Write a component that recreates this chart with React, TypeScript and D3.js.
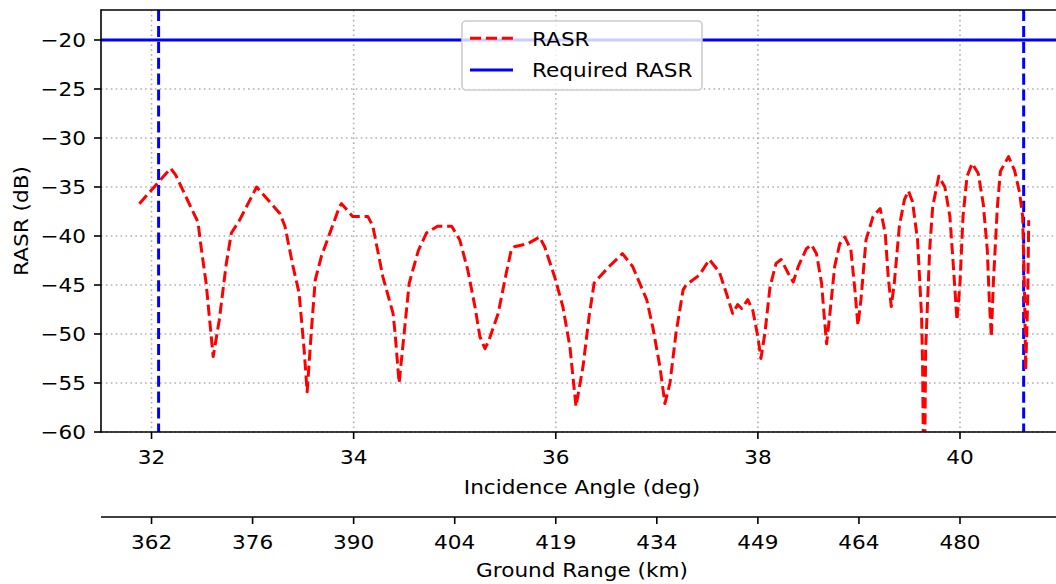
import React from "react";
import * as d3 from "d3";

// Incidence angle (deg) samples of the RASR curve
const angle = [
  31.88, 32.06, 32.19, 32.24, 32.46, 32.49, 32.54, 32.61, 32.67, 32.74, 32.79, 32.87,
  33.04, 33.27, 33.32, 33.40, 33.46, 33.51, 33.54, 33.58, 33.62, 33.68, 33.86, 33.88,
  33.99, 34.14, 34.19, 34.29, 34.39, 34.41, 34.45, 34.50, 34.55, 34.64, 34.72, 34.83,
  34.97, 35.05, 35.13, 35.20, 35.25, 35.30, 35.34, 35.43, 35.51, 35.56, 35.59, 35.72,
  35.84, 35.89, 35.99, 36.07, 36.14, 36.20, 36.27, 36.33, 36.38, 36.43, 36.53, 36.66,
  36.76, 36.90, 36.96, 37.03, 37.08, 37.13, 37.19, 37.26, 37.29, 37.42, 37.52, 37.62,
  37.69, 37.75, 37.80, 37.84, 37.90, 37.95, 38.00, 38.03, 38.07, 38.12, 38.18, 38.23,
  38.30, 38.35, 38.40, 38.48, 38.53, 38.58, 38.63, 38.66, 38.68, 38.71, 38.76, 38.81,
  38.86, 38.92, 38.96, 38.99, 39.02, 39.07, 39.14, 39.21, 39.26, 39.29, 39.32, 39.35,
  39.40, 39.45, 39.49, 39.53, 39.58, 39.62, 39.63, 39.645, 39.66, 39.70, 39.73, 39.79,
  39.85, 39.90, 39.93, 39.97, 40.00, 40.03, 40.07, 40.12, 40.18, 40.23, 40.27, 40.29,
  40.31, 40.33, 40.37, 40.40, 40.48, 40.54, 40.59, 40.62, 40.64, 40.65, 40.67, 40.68,
];

// RASR values (dB)
const rasr = [
  -36.7, -34.6, -33.1, -33.8, -38.6, -41.1, -44.8, -52.3, -48.6, -42.8, -39.7, -38.4,
  -35.0, -37.7, -39.0, -43.1, -45.8, -51.6, -55.9, -49.9, -44.5, -42.1, -37.0, -36.7,
  -38.0, -38.0, -39.0, -44.2, -47.9, -49.9, -55.0, -49.9, -44.8, -41.5, -39.7, -39.0,
  -39.0, -40.4, -43.5, -47.2, -50.3, -51.5, -50.6, -47.9, -43.8, -41.4, -41.1, -40.8,
  -40.1, -41.1, -44.2, -47.2, -51.3, -57.4, -53.3, -48.2, -44.8, -44.2, -43.1, -41.8,
  -43.1, -46.5, -49.3, -53.3, -57.1, -55.0, -49.9, -45.5, -45.0, -44.0, -42.4, -43.7,
  -45.9, -47.9, -47.0, -47.4, -46.5, -47.6, -50.3, -52.5, -49.9, -45.2, -42.8, -42.4,
  -43.8, -44.7, -43.1, -41.3, -40.9, -41.8, -44.8, -48.6, -51.0, -48.2, -43.1, -40.8,
  -40.1, -41.4, -45.5, -49.1, -46.5, -40.4, -38.0, -37.2, -39.7, -44.2, -47.2, -44.8,
  -39.0, -36.3, -35.4, -36.5, -40.4, -48.2, -53.3, -70.0, -51.6, -41.4, -37.0, -33.9,
  -35.0, -38.0, -42.4, -48.6, -44.8, -38.0, -33.9, -32.6, -33.6, -36.7, -41.4, -46.5,
  -50.3, -44.8, -37.0, -33.4, -31.9, -33.3, -35.6, -38.0, -46.5, -53.7, -46.5, -38.4,
];

const requiredRasr = -20;
const swathEdges = [32.07, 40.63];

const yTicks = [-20, -25, -30, -35, -40, -45, -50, -55, -60];
const xTicks = [32, 34, 36, 38, 40];
const groundTickAngles = [32, 33, 34, 35, 36, 37, 38, 39, 40];
const groundRangeLabels = ["362", "376", "390", "404", "419", "434", "449", "464", "480"];

const W = 1056;
const H = 584;
const left = 101;
const right = 1056;
const top = 10;
const bottom = 432;
const axis2Y = 517;
const FONT = "'DejaVu Sans', sans-serif";
const FS = 20;
const SX = 1.08;

function T(props: {
  x: number;
  y: number;
  anchor?: "start" | "middle" | "end";
  dy?: string;
  rotate?: number;
  children: React.ReactNode;
}) {
  const { x, y, anchor = "start", dy, rotate = 0, children } = props;
  const tr = rotate
    ? `translate(${x},${y}) rotate(${rotate}) scale(${SX},1)`
    : `translate(${x},${y}) scale(${SX},1)`;
  return (
    <g transform={tr}>
      <text x={0} y={0} dy={dy} textAnchor={anchor} fontSize={FS} fill="#000">
        {children}
      </text>
    </g>
  );
}

export default function App() {
  const x = d3.scaleLinear().domain([31.5, 40.95]).range([left, right]);
  const y = d3.scaleLinear().domain([-60, -16.94]).range([bottom, top]);

  const pts: [number, number][] = angle.map((a, i) => [a, rasr[i]]);
  const line = d3
    .line<[number, number]>()
    .x((d) => x(d[0]))
    .y((d) => y(d[1]));

  return (
    <svg
      width={W}
      height={H}
      style={{ position: "absolute", left: 0, top: 0, background: "#fff" }}
      fontFamily={FONT}
    >
      <defs>
        <clipPath id="plotclip">
          <rect x={left} y={top} width={right - left} height={bottom - top} />
        </clipPath>
      </defs>
      <rect x={0} y={0} width={W} height={H} fill="#fff" />

      {/* grid */}
      <g stroke="#b0b0b0" strokeWidth={1.6} strokeDasharray="1.6,3.3">
        {yTicks.map((t) => (
          <line key={"gy" + t} x1={left} x2={right} y1={y(t)} y2={y(t)} />
        ))}
        {xTicks.map((t) => (
          <line key={"gx" + t} x1={x(t)} x2={x(t)} y1={top} y2={bottom} />
        ))}
      </g>

      <g clipPath="url(#plotclip)">
        <line
          x1={left}
          x2={right}
          y1={y(requiredRasr)}
          y2={y(requiredRasr)}
          stroke="#0000ff"
          strokeWidth={3}
        />
        {swathEdges.map((a) => (
          <line
            key={"se" + a}
            x1={x(a)}
            x2={x(a)}
            y1={top}
            y2={bottom}
            stroke="#0000ff"
            strokeWidth={3}
            strokeDasharray="11.1,4.8"
          />
        ))}
        <path
          d={line(pts) || ""}
          fill="none"
          stroke="#ff0000"
          strokeWidth={3}
          strokeDasharray="11.1,4.8"
          strokeLinejoin="round"
        />
      </g>

      {/* spines */}
      <g stroke="#000" strokeWidth={1.6} fill="none">
        <line x1={left} x2={left} y1={top - 0.8} y2={bottom + 0.8} />
        <line x1={left} x2={right} y1={top} y2={top} />
        <line x1={left} x2={right} y1={bottom} y2={bottom} />
        <line x1={left} x2={right} y1={axis2Y} y2={axis2Y} />
      </g>

      {/* y ticks */}
      {yTicks.map((t) => (
        <g key={"yt" + t}>
          <line x1={left - 7} x2={left} y1={y(t)} y2={y(t)} stroke="#000" strokeWidth={1.6} />
          <T x={left - 15} y={y(t)} dy="0.36em" anchor="end">
            {"\u2212" + Math.abs(t)}
          </T>
        </g>
      ))}

      {/* x ticks primary */}
      {xTicks.map((t) => (
        <g key={"xt" + t}>
          <line x1={x(t)} x2={x(t)} y1={bottom} y2={bottom + 7} stroke="#000" strokeWidth={1.6} />
          <T x={x(t)} y={464} anchor="middle">
            {t}
          </T>
        </g>
      ))}
      <T x={582} y={494} anchor="middle">
        Incidence Angle (deg)
      </T>

      {/* secondary ground range axis */}
      {groundTickAngles.map((a, i) => (
        <g key={"gt" + a}>
          <line x1={x(a)} x2={x(a)} y1={axis2Y} y2={axis2Y + 7} stroke="#000" strokeWidth={1.6} />
          <T x={x(a)} y={549} anchor="middle">
            {groundRangeLabels[i]}
          </T>
        </g>
      ))}
      <T x={582} y={577} anchor="middle">
        Ground Range (km)
      </T>

      {/* y label */}
      <g transform={`translate(28,${(top + bottom) / 2}) rotate(-90) scale(${SX},1)`}>
        <text x={0} y={0} textAnchor="middle" fontSize={FS} fill="#000">
          RASR (dB)
        </text>
      </g>

      {/* legend */}
      <g>
        <rect
          x={462}
          y={21}
          width={240}
          height={69}
          rx={4}
          fill="#fff"
          fillOpacity={0.8}
          stroke="#cccccc"
          strokeWidth={1.6}
        />
        <line x1={470} x2={513} y1={38.3} y2={38.3} stroke="#ff0000" strokeWidth={3} strokeDasharray="11.1,4.8" />
        <T x={532} y={46}>
          RASR
        </T>
        <line x1={470} x2={513} y1={70} y2={70} stroke="#0000ff" strokeWidth={3} />
        <T x={532} y={77}>
          Required RASR
        </T>
      </g>
    </svg>
  );
}
